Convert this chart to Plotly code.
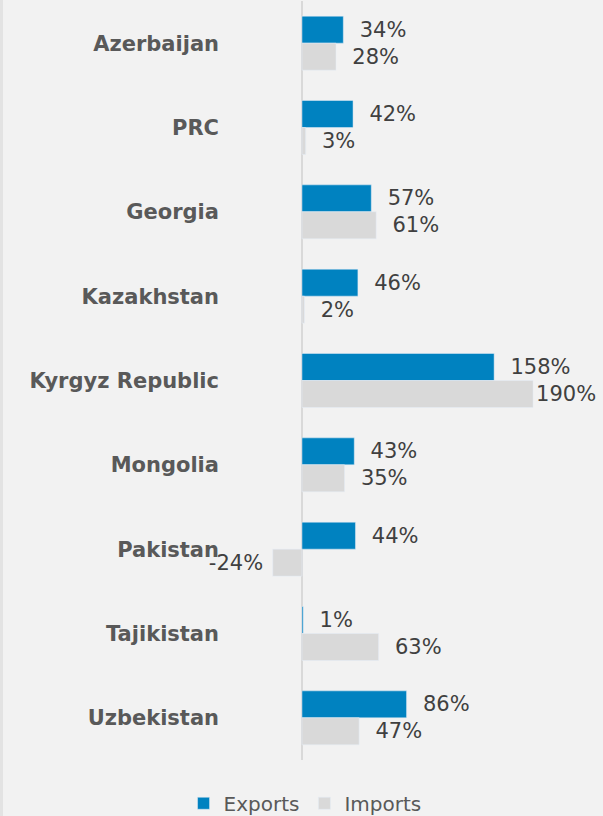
import plotly.graph_objects as go

countries = ["Azerbaijan", "PRC", "Georgia", "Kazakhstan", "Kyrgyz Republic",
             "Mongolia", "Pakistan", "Tajikistan", "Uzbekistan"]
exports = [34, 42, 57, 46, 158, 43, 44, 1, 86]
imports = [28, 3, 61, 2, 190, 35, -24, 63, 47]

label_font = dict(family="DejaVu Sans", size=21, color="#404040")
nb = "\u00a0"


def labels(vals, pad):
    out = []
    for v in vals:
        if v < 0:
            out.append(f"{v}%{nb}")
        elif v > 180:
            # no room on the right, keep it tight like the original
            out.append(f"{v}%")
        else:
            out.append(f"{pad}{v}%")
    return out


fig = go.Figure()
fig.add_trace(go.Bar(y=countries, x=exports, name="Exports", orientation="h",
                     marker_color="#0082c0", text=labels(exports, nb * 2),
                     textposition="outside", textfont=label_font, cliponaxis=False))
fig.add_trace(go.Bar(y=countries, x=imports, name="Imports", orientation="h",
                     marker_color="#d9d9d9", text=labels(imports, nb * 2),
                     textposition="outside", textfont=label_font, cliponaxis=False))

fig.update_layout(
    width=603, height=816,
    barmode="group", bargap=0.36, bargroupgap=0,
    paper_bgcolor="#f2f2f2", plot_bgcolor="#f2f2f2",
    margin=dict(l=220, r=10, t=1, b=56, autoexpand=False),
    showlegend=True,
    legend=dict(orientation="h", x=0.228, y=-0.057,
                xanchor="center", yanchor="middle",
                font=dict(family="DejaVu Sans", size=20, color="#595959")),
)
fig.update_xaxes(range=[-67.4, 239.3], showgrid=False, showticklabels=False,
                 zeroline=True, zerolinecolor="#d9d9d9", zerolinewidth=2,
                 automargin=False)
fig.update_yaxes(autorange="reversed", showgrid=False, ticks="", automargin=False,
                 tickfont=dict(family="DejaVu Sans", size=21, color="#595959",
                               weight="bold"))
fig.add_shape(type="line", xref="paper", yref="paper", x0=-218.5 / 373, x1=-218.5 / 373,
              y0=-0.1, y1=1.01, line=dict(color="#e3e3e3", width=3))

fig.write_html("out.html", config={"displayModeBar": False},
               post_script="document.body.style.margin='0';")
